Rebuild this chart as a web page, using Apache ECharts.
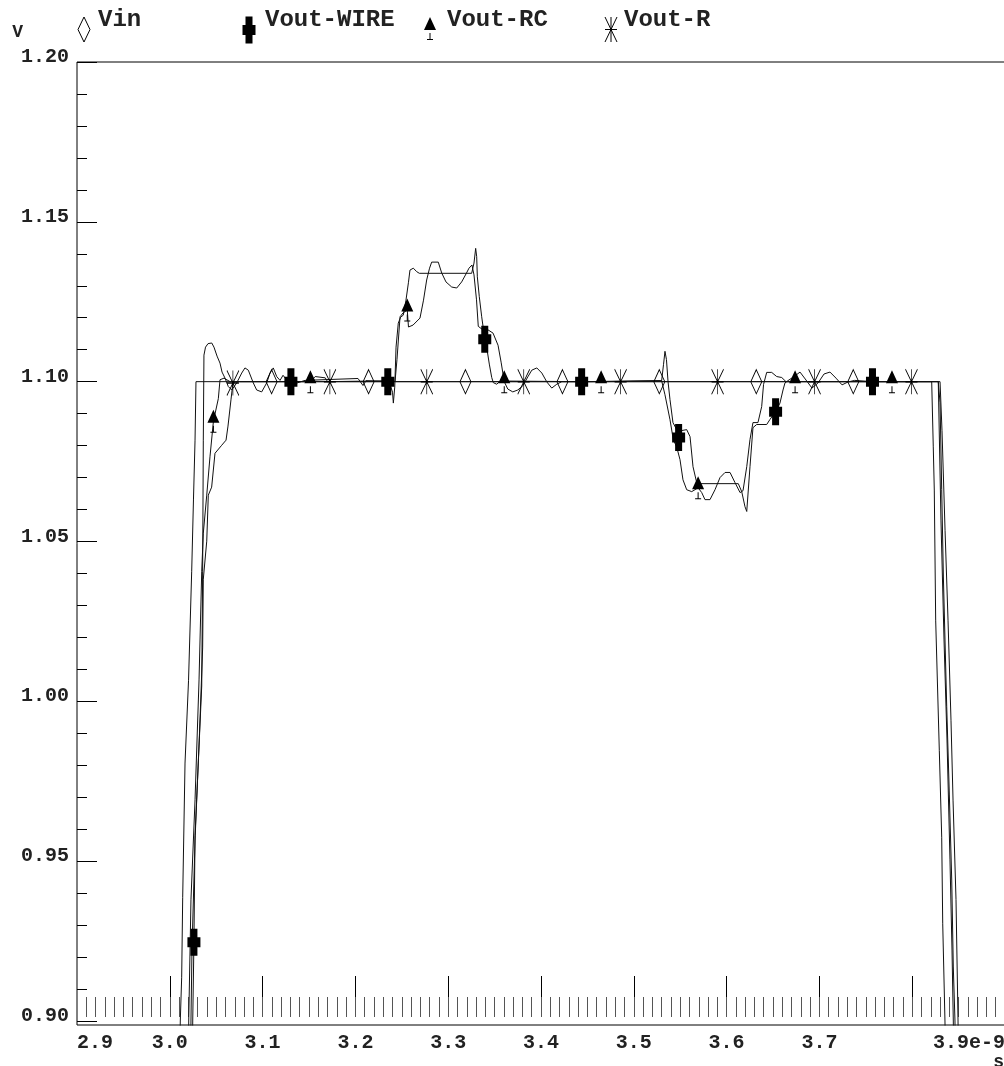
<!DOCTYPE html>
<html>
<head>
<meta charset="utf-8">
<script src="https://cdn.jsdelivr.net/npm/echarts@6/dist/echarts.min.js"></script>
<style>
  html, body { margin: 0; padding: 0; background: #fff; }
  #chart { width: 1004px; height: 1066px; }
</style>
</head>
<body>
<div id="chart"></div>
<script>
// ---- series names ----
const seriesNames = ['Vin', 'Vout-WIRE', 'Vout-RC', 'Vout-R'];

// ---- traces: [time (ns), voltage (V)] ----
const vinTrace = [
  [3.0108, 0.8909], [3.0113, 0.9000], [3.0128, 0.9137], [3.0139, 0.9387], [3.0164, 0.9807],
  [3.0202, 1.0066], [3.0236, 1.0407], [3.0255, 1.0630], [3.0272, 1.0817], [3.0282, 1.1000],
  [3.1097, 1.1000], [3.2142, 1.1000], [3.3186, 1.1000], [3.4231, 1.1000], [3.5275, 1.1000],
  [3.6320, 1.1000], [3.7365, 1.1000], [3.8210, 1.1000],
  [3.8227, 1.0796], [3.8238, 1.0661], [3.8253, 1.0254], [3.8292, 0.9847], [3.8318, 0.9575],
  [3.8329, 0.9304], [3.8353, 0.9000], [3.8359, 0.8909]
];

const wireTrace = [
  [3.0245, 0.8909], [3.0247, 0.9000], [3.0260, 0.9246], [3.0272, 0.9580], [3.0307, 0.9807],
  [3.0344, 1.0048], [3.0354, 1.0407], [3.0361, 1.0817], [3.0368, 1.1083], [3.0385, 1.1108],
  [3.0412, 1.1119], [3.0452, 1.1121], [3.0476, 1.1108], [3.0509, 1.1080], [3.0541, 1.1058],
  [3.0563, 1.1030], [3.0595, 1.1011], [3.0630, 1.0985], [3.0667, 1.0974], [3.0721, 1.0996],
  [3.0775, 1.1027], [3.0810, 1.1043], [3.0846, 1.1036], [3.0900, 1.0996], [3.0936, 1.0974],
  [3.0990, 1.0968], [3.1044, 1.0996], [3.1080, 1.1027], [3.1115, 1.1043], [3.1152, 1.1016],
  [3.1188, 1.1004], [3.1220, 1.1020], [3.1263, 1.1004], [3.1305, 1.1000], [3.1371, 1.0996],
  [3.1457, 1.1004], [3.2028, 1.1010], [3.2082, 1.0988], [3.2114, 1.1003], [3.2349, 1.1000],
  [3.2373, 1.0992], [3.2400, 1.0967], [3.2409, 1.0933], [3.2424, 1.0983], [3.2438, 1.1108],
  [3.2462, 1.1183], [3.2488, 1.1202], [3.2516, 1.1208], [3.2545, 1.1255], [3.2572, 1.1311],
  [3.2588, 1.1349], [3.2624, 1.1355], [3.2661, 1.1344], [3.2689, 1.1339], [3.3253, 1.1339],
  [3.3278, 1.1371], [3.3296, 1.1417], [3.3307, 1.1391], [3.3314, 1.1328], [3.3335, 1.1266],
  [3.3361, 1.1203], [3.3386, 1.1151], [3.3394, 1.1133], [3.3415, 1.1107], [3.3443, 1.1055],
  [3.3469, 1.1013], [3.3486, 1.0997], [3.3523, 1.0992], [3.3560, 1.1002], [3.4438, 1.1000],
  [3.5228, 1.1003], [3.5300, 1.1003], [3.5320, 1.1053], [3.5336, 1.1095], [3.5352, 1.1069],
  [3.5369, 1.1000], [3.5390, 1.0944], [3.5422, 1.0872], [3.5462, 1.0850], [3.5483, 1.0825],
  [3.5516, 1.0847], [3.5570, 1.0850], [3.5606, 1.0828], [3.5638, 1.0734], [3.5678, 1.0684],
  [3.5713, 1.0681], [3.6126, 1.0681], [3.6163, 1.0656], [3.6198, 1.0609], [3.6217, 1.0594],
  [3.6252, 1.0734], [3.6284, 1.0856], [3.6324, 1.0866], [3.6432, 1.0866], [3.6468, 1.0882],
  [3.6528, 1.0906], [3.6575, 1.0933], [3.6608, 1.0974], [3.6629, 1.0996], [3.6660, 1.1003],
  [3.6737, 1.1018], [3.6791, 1.1030], [3.6856, 1.1005], [3.6920, 1.0980], [3.6985, 1.0996],
  [3.7050, 1.1024], [3.7114, 1.1030], [3.7179, 1.1011], [3.7244, 1.0990], [3.7308, 1.0999],
  [3.7380, 1.1004], [3.7572, 1.1000], [3.8281, 1.1000], [3.8300, 1.0934], [3.8318, 1.0662],
  [3.8336, 1.0389], [3.8372, 0.9983], [3.8400, 0.9710], [3.8426, 0.9441], [3.8443, 0.9169],
  [3.8461, 0.9000], [3.8464, 0.8909]
];

const rcTrace = [
  [3.0202, 0.8909], [3.0204, 0.9000], [3.0228, 0.9379], [3.0272, 0.9692], [3.0315, 1.0067],
  [3.0344, 1.0407], [3.0361, 1.0526], [3.0398, 1.0645], [3.0433, 1.0765], [3.0470, 1.0876],
  [3.0523, 1.0947], [3.0541, 1.1006], [3.0584, 1.1011], [3.0650, 1.1000], [3.1515, 1.1000],
  [3.1567, 1.1016], [3.1675, 1.1012], [3.1700, 1.1000], [3.2405, 1.1003], [3.2427, 1.1000],
  [3.2448, 1.1069], [3.2481, 1.1203], [3.2513, 1.1215], [3.2559, 1.1224], [3.2572, 1.1171],
  [3.2621, 1.1177], [3.2696, 1.1199], [3.2734, 1.1255], [3.2768, 1.1318], [3.2799, 1.1355],
  [3.2822, 1.1374], [3.2893, 1.1374], [3.2930, 1.1340], [3.2976, 1.1312], [3.3038, 1.1296],
  [3.3092, 1.1293], [3.3145, 1.1312], [3.3192, 1.1337], [3.3224, 1.1355], [3.3256, 1.1365],
  [3.3278, 1.1334], [3.3305, 1.1256], [3.3324, 1.1173], [3.3375, 1.1162], [3.3429, 1.1162],
  [3.3483, 1.1152], [3.3537, 1.1114], [3.3570, 1.1061], [3.3604, 1.1000], [3.3642, 1.0977],
  [3.3696, 1.0968], [3.3750, 1.0974], [3.3804, 1.0987], [3.3858, 1.1015], [3.3901, 1.1036],
  [3.3955, 1.1043], [3.4009, 1.1027], [3.4063, 1.0999], [3.4116, 1.0980], [3.4170, 1.0992],
  [3.4224, 1.1000], [3.4648, 1.1000], [3.5300, 1.1003], [3.5336, 1.0959], [3.5390, 1.0881],
  [3.5426, 1.0818], [3.5462, 1.0796], [3.5498, 1.0756], [3.5530, 1.0693], [3.5570, 1.0662],
  [3.5624, 1.0656], [3.5693, 1.0668], [3.5732, 1.0653], [3.5767, 1.0631], [3.5821, 1.0631],
  [3.5875, 1.0662], [3.5929, 1.0700], [3.5983, 1.0716], [3.6037, 1.0716], [3.6091, 1.0684],
  [3.6145, 1.0653], [3.6177, 1.0659], [3.6217, 1.0734], [3.6252, 1.0819], [3.6284, 1.0872],
  [3.6338, 1.0872], [3.6378, 1.0922], [3.6398, 1.0991], [3.6432, 1.1029], [3.6486, 1.1029],
  [3.6540, 1.1016], [3.6594, 1.1013], [3.6640, 1.1000], [3.6738, 1.1000], [3.7782, 1.1000],
  [3.8300, 1.1000], [3.8321, 1.0848], [3.8354, 1.0535], [3.8386, 1.0254], [3.8418, 0.9941],
  [3.8440, 0.9691], [3.8472, 0.9380], [3.8494, 0.9000], [3.8497, 0.8909]
];

const rTrace = [
  [3.0226, 0.8909], [3.0228, 0.9000], [3.0239, 0.9222], [3.0272, 0.9566], [3.0320, 0.9900],
  [3.0354, 1.0167], [3.0361, 1.0382], [3.0398, 1.0501], [3.0415, 1.0645], [3.0451, 1.0670],
  [3.0487, 1.0776], [3.0559, 1.0801], [3.0606, 1.0817], [3.0627, 1.0861], [3.0659, 1.0943],
  [3.0680, 1.0996], [3.0710, 1.1000], [3.1725, 1.1000], [3.2769, 1.1000], [3.3814, 1.1000],
  [3.4858, 1.1000], [3.5903, 1.1000], [3.6948, 1.1000], [3.7992, 1.1000], [3.8281, 1.1000],
  [3.8289, 1.0880], [3.8310, 1.0567], [3.8343, 1.0192], [3.8375, 0.9879], [3.8407, 0.9504],
  [3.8429, 0.9222], [3.8443, 0.9000], [3.8446, 0.8909]
];

// ---- times (ns) at which each trace carries its marker ----
const vinMarks  = [3.1097, 3.2142, 3.3186, 3.4231, 3.5275, 3.6320, 3.7365];
const wireMarks = [3.0260, 3.1305, 3.2349, 3.3394, 3.4438, 3.5483, 3.6528, 3.7572];
const rcMarks   = [3.0470, 3.1515, 3.2559, 3.3604, 3.4648, 3.5693, 3.6738, 3.7782];
const rMarks    = [3.0680, 3.1725, 3.2769, 3.3814, 3.4858, 3.5903, 3.6948, 3.7992];

// ---- axis ticks and labels ----
const xMajorTicks = [3.0, 3.1, 3.2, 3.3, 3.4, 3.5, 3.6, 3.7, 3.8];
const xLabelValues = [2.9, 3.0, 3.1, 3.2, 3.3, 3.4, 3.5, 3.6, 3.7, 3.9];
const yMajorTicks = [0.90, 0.95, 1.00, 1.05, 1.10, 1.15, 1.20];

const xMinorTicks = [];
for (let k = 291; k <= 389; k++) xMinorTicks.push(k / 100);
const yMinorTicks = [];
for (let k = 91; k <= 119; k++) yMinorTicks.push(k / 100);

// ---- marker shapes (series symbols) ----
const PLUS_D = 'M3,0H10V8.5H13V18.5H10V27H3V18.5H0V8.5H3Z';
const TRI_D = 'M6,0L12,13L0,13Z M5.5,16H6.5V22H9V23H3V22H5.5Z';
const STAR_D = 'M0,0L12,25M12,0L0,25M6,0V25M0,12.5H12';

const FONT = '"Liberation Mono", "DejaVu Sans Mono", monospace';
const INK = '#111';

function withMarks(trace, marks) {
  return trace.map(([t, v]) =>
    marks.indexOf(t) >= 0 ? { value: [t, v] } : { value: [t, v], symbol: 'none' });
}

function traceSeries(name, trace, marks, symbol, size, itemStyle) {
  return {
    name: name,
    type: 'line',
    data: withMarks(trace, marks),
    symbol: symbol,
    symbolSize: size,
    showSymbol: true,
    showAllSymbol: true,
    clip: true,
    lineStyle: { color: INK, width: 1 },
    itemStyle: itemStyle,
    emphasis: { disabled: true },
    z: 3
  };
}

// legend keys, drawn with the same shapes as the series symbols
function legendKey(kind, cx, cy) {
  const blk = { fill: '#000' };
  const ln = { stroke: '#000', lineWidth: 1, fill: 'none' };
  if (kind === 'diamond') {
    return [{ type: 'polygon', shape: { points: [[cx, cy - 12.5], [cx + 6, cy], [cx, cy + 12.5], [cx - 6, cy]] }, style: ln }];
  }
  if (kind === 'plus') {
    const x0 = cx - 6.5, y0 = cy - 13.5;
    const p = [[3,0],[10,0],[10,8.5],[13,8.5],[13,18.5],[10,18.5],[10,27],[3,27],[3,18.5],[0,18.5],[0,8.5],[3,8.5]]
      .map(([a, b]) => [x0 + a, y0 + b]);
    return [{ type: 'polygon', shape: { points: p }, style: blk }];
  }
  if (kind === 'triangle') {
    const x0 = cx - 6, y0 = cy - 11.5;
    return [
      { type: 'polygon', shape: { points: [[x0 + 6, y0], [x0 + 12, y0 + 13], [x0, y0 + 13]] }, style: blk },
      { type: 'line', shape: { x1: x0 + 6, y1: y0 + 16, x2: x0 + 6, y2: y0 + 22.5 }, style: ln },
      { type: 'line', shape: { x1: x0 + 3, y1: y0 + 22.5, x2: x0 + 9, y2: y0 + 22.5 }, style: ln }
    ];
  }
  const x0 = cx - 6, y0 = cy - 12.5;
  return [
    { type: 'line', shape: { x1: x0, y1: y0, x2: x0 + 12, y2: y0 + 25 }, style: ln },
    { type: 'line', shape: { x1: x0 + 12, y1: y0, x2: x0, y2: y0 + 25 }, style: ln },
    { type: 'line', shape: { x1: x0 + 6, y1: y0, x2: x0 + 6, y2: y0 + 25 }, style: ln },
    { type: 'line', shape: { x1: x0, y1: y0 + 12.5, x2: x0 + 12, y2: y0 + 12.5 }, style: ln }
  ];
}

function legendText(str, x) {
  return { type: 'text', x: x, y: 19.5,
    style: { text: str, font: 'bold 24px ' + FONT, fill: '#222', textVerticalAlign: 'middle' } };
}

const chart = echarts.init(document.getElementById('chart'), null, { renderer: 'canvas' });

const option = {
  animation: false,
  backgroundColor: '#fff',
  grid: {
    left: 77, right: -1, top: 62, bottom: 41,
    outerBoundsMode: 'none',
    containLabel: false,
    show: true, borderColor: '#000', borderWidth: 1, backgroundColor: 'transparent'
  },
  xAxis: [
    {
      type: 'value', min: 2.9, max: 3.9, position: 'bottom',
      axisLine: { show: false },
      splitLine: { show: false },
      axisTick: { show: false },
      axisLabel: {
        customValues: xLabelValues,
        formatter: v => (Math.abs(v - 3.9) < 1e-9 ? '3.9e-9' : v.toFixed(1)),
        fontFamily: FONT, fontWeight: 'bold', fontSize: 20, color: '#222',
        margin: 8,
        alignMinLabel: 'left', alignMaxLabel: 'right'
      },
      name: 's',
      nameLocation: 'end',
      nameGap: 0,
      nameTextStyle: {
        fontFamily: FONT, fontWeight: 'bold', fontSize: 18, color: '#222',
        align: 'right', verticalAlign: 'top', padding: [28, 1, 0, 0]
      }
    },
    {
      type: 'value', min: 2.9, max: 3.9, position: 'bottom', offset: -8,
      axisLine: { show: false }, splitLine: { show: false },
      axisLabel: { show: false },
      axisTick: {
        show: true, inside: true, length: 41, customValues: xMajorTicks,
        lineStyle: { color: '#000', width: 1 }
      }
    },
    {
      type: 'value', min: 2.9, max: 3.9, position: 'bottom', offset: -8,
      axisLine: { show: false }, splitLine: { show: false },
      axisLabel: { show: false },
      axisTick: {
        show: true, inside: true, length: 20, customValues: xMinorTicks,
        lineStyle: { color: '#555', width: 1 }
      }
    }
  ],
  yAxis: [
    {
      type: 'value', min: 0.89875, max: 1.20, position: 'left',
      axisLine: { show: false }, splitLine: { show: false },
      axisTick: {
        show: true, inside: true, length: 20, customValues: yMajorTicks,
        lineStyle: { color: '#000', width: 1 }
      },
      axisLabel: {
        customValues: yMajorTicks,
        formatter: v => v.toFixed(2),
        fontFamily: FONT, fontWeight: 'bold', fontSize: 20, color: '#222',
        margin: 8, verticalAlign: 'bottom', lineHeight: 10
      },
      name: 'V',
      nameLocation: 'end',
      nameGap: 30,
      nameTextStyle: {
        fontFamily: FONT, fontWeight: 'bold', fontSize: 18, color: '#222',
        align: 'right', verticalAlign: 'middle', padding: [0, 54, 0, 0]
      }
    },
    {
      type: 'value', min: 0.89875, max: 1.20, position: 'left', offset: 0,
      axisLine: { show: false }, splitLine: { show: false },
      axisLabel: { show: false },
      axisTick: {
        show: true, inside: true, length: 10, customValues: yMinorTicks,
        lineStyle: { color: '#000', width: 1 }
      }
    }
  ],
  series: [
    traceSeries(seriesNames[0], vinTrace, vinMarks, 'diamond', [11, 24],
      { color: 'rgba(0,0,0,0)', borderColor: '#000', borderWidth: 1 }),
    traceSeries(seriesNames[1], wireTrace, wireMarks, 'path://' + PLUS_D, [13, 27],
      { color: '#000', borderWidth: 0 }),
    traceSeries(seriesNames[2], rcTrace, rcMarks, 'path://' + TRI_D, [12, 23],
      { color: '#000', borderWidth: 0 }),
    traceSeries(seriesNames[3], rTrace, rMarks, 'path://' + STAR_D, [12, 25],
      { color: 'rgba(0,0,0,0)', borderColor: '#000', borderWidth: 1 })
  ],
  graphic: [].concat(
    legendKey('diamond', 84, 29.5), [legendText(seriesNames[0], 98)],
    legendKey('plus', 249, 30), [legendText(seriesNames[1], 265)],
    legendKey('triangle', 430, 28.5), [legendText(seriesNames[2], 447)],
    legendKey('star', 611, 29.5), [legendText(seriesNames[3], 624)]
  )
};

chart.setOption(option);
</script>
</body>
</html>
